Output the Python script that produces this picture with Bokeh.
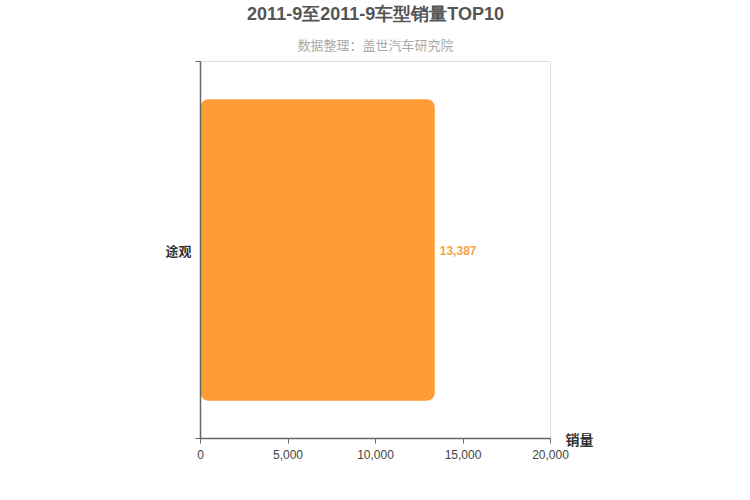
from bokeh.plotting import figure
from bokeh.models import (Range1d, FixedTicker, NumeralTickFormatter, Title,
                          ColumnDataSource, LinearAxis)
from bokeh.core.properties import value
from bokeh.embed import file_html
from bokeh.resources import INLINE

# data
categories = ["途观"]
sales = [13387]
x_ticks = [0, 5000, 10000, 15000, 20000]
title_text = "2011-9至2011-9车型销量TOP10"
subtitle_text = "数据整理：盖世汽车研究院"
x_label = "销量"

n = len(categories)
ypos = [n - i - 0.5 for i in range(n)]
src = ColumnDataSource(dict(y=ypos, v=sales, lbl=[f"{s:,}" for s in sales]))

p = figure(width=734, height=484, output_backend="svg", toolbar_location=None,
           x_range=Range1d(0, 20000), y_range=Range1d(0, n),
           x_axis_type=None, y_axis_type=None,
           min_border_left=200, min_border_right=184, min_border_top=60, min_border_bottom=46)
p.background_fill_color = "white"
p.border_fill_color = "white"
p.outline_line_color = "#dddddd"

# axes
xa = LinearAxis(ticker=FixedTicker(ticks=x_ticks), formatter=NumeralTickFormatter(format="0,0"))
xa.axis_line_color = "#666666"
xa.axis_line_width = 1.5
xa.major_tick_line_color = "#666666"
xa.major_tick_in = 0
xa.major_tick_out = 5
xa.minor_tick_line_color = None
xa.major_label_text_font = "Liberation Sans"
xa.major_label_text_font_size = "12px"
xa.major_label_text_color = "#444444"
xa.major_label_standoff = 6
p.add_layout(xa, "below")

ya = LinearAxis(ticker=FixedTicker(ticks=ypos, minor_ticks=list(range(n + 1))))
ya.major_label_overrides = {y: c for y, c in zip(ypos, categories)}
ya.axis_line_color = "#666666"
ya.axis_line_width = 1.5
ya.major_tick_line_color = None
ya.major_tick_out = 0
ya.major_tick_in = 0
ya.minor_tick_line_color = "#666666"
ya.minor_tick_in = 0
ya.minor_tick_out = 5
ya.major_label_text_font = "Noto Sans CJK SC"
ya.major_label_text_font_style = "bold"
ya.major_label_text_font_size = "13px"
ya.major_label_text_color = "#333333"
ya.major_label_standoff = 4
p.add_layout(ya, "left")

# axis name "销量" shown at the right end of the x axis
ra = LinearAxis(ticker=FixedTicker(ticks=[0]))
ra.major_label_overrides = {0: x_label}
ra.axis_line_color = None
ra.major_tick_line_color = None
ra.minor_tick_line_color = None
ra.major_tick_out = 0
ra.major_tick_in = 0
ra.major_label_standoff = 15
ra.major_label_text_font = "Noto Sans CJK SC"
ra.major_label_text_font_style = "bold"
ra.major_label_text_font_size = "14px"
ra.major_label_text_color = "#333333"
p.add_layout(ra, "right")

p.xgrid.grid_line_color = "#dddddd"
p.xgrid.ticker = FixedTicker(ticks=x_ticks)
p.ygrid.grid_line_color = None

p.hbar(y="y", right="v", left=0, height=0.8, source=src, fill_color="#FF9C35",
       line_color=None, border_radius=8)

p.text(x="v", y="y", text="lbl", source=src, x_offset=5, text_baseline="middle",
       text_font=value("Liberation Sans"), text_font_size="12px", text_font_style="bold",
       text_color="#F5A445")

sub = Title(text=subtitle_text, align="center", text_font="Noto Sans CJK SC",
            text_font_size="13px", text_font_style="normal", text_color="#aaaaaa",
            standoff=16, text_line_height=1.0)
p.add_layout(sub, "above")
tit = Title(text=title_text, align="center", text_font="Liberation Sans",
            text_font_size="18px", text_font_style="bold", text_color="#555555",
            standoff=2, text_line_height=1.0)
p.add_layout(tit, "above")

open("out.html", "w").write(file_html(p, INLINE))
